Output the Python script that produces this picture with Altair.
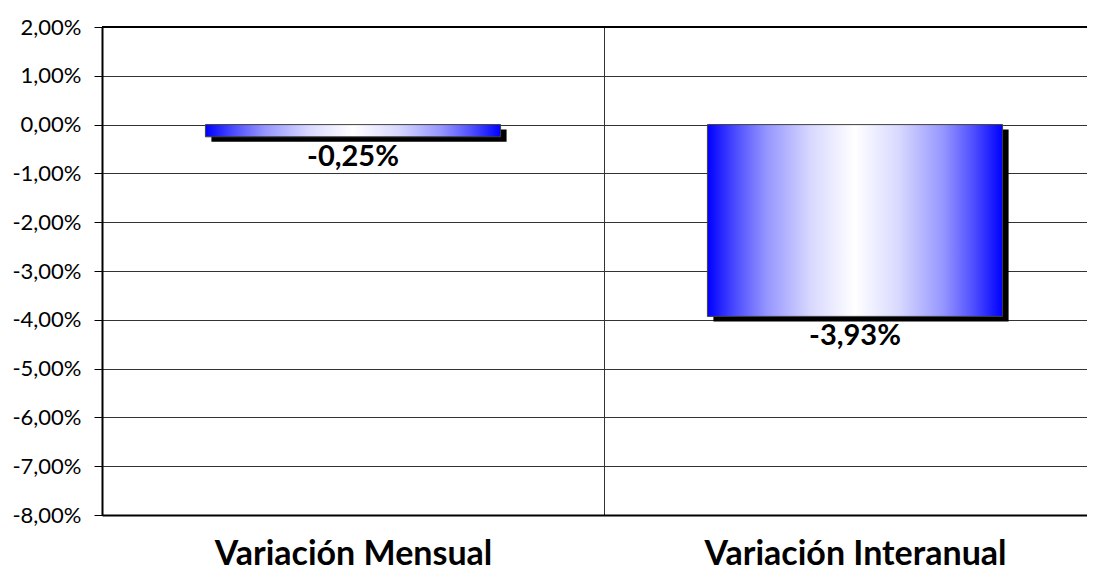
import altair as alt
import pandas as pd

categories = ["Variación Mensual", "Variación Interanual"]
values = [-0.0025, -0.0393]
value_labels = ["-0,25%", "-3,93%"]
y_ticks = [0.02, 0.01, 0.0, -0.01, -0.02, -0.03, -0.04, -0.05, -0.06, -0.07, -0.08]

df = pd.DataFrame({"cat": categories, "val": values, "label": value_labels})

FONT = "Lato"

x_enc = alt.X(
    "cat:N",
    sort=categories,
    scale=alt.Scale(range=[0, 1004], paddingInner=0, paddingOuter=0),
    axis=alt.Axis(
        title=None,
        tickBand="extent",
        grid=True,
        gridColor="#333333",
        gridWidth=1,
        ticks=False,
        tickSize=0,
        labelFont=FONT,
        labelFontWeight="bold",
        labelFontSize=34,
        labelColor="black",
        labelPadding=49,
        labelBaseline="alphabetic",
        labelAngle=0,
        labelLimit=600,
        domainColor="black",
        domainWidth=2,
    ),
)

y_enc = alt.Y(
    "val:Q",
    scale=alt.Scale(domain=[-0.08, 0.02], nice=False),
    axis=alt.Axis(
        title=None,
        values=y_ticks,
        labelExpr="replace(replace(format(datum.value, '.2%'), '.', ','), '\u2212', '-')",
        labelFont=FONT,
        labelFontSize=22,
        labelColor="black",
        labelPadding=13,
        tickSize=8,
        tickColor="black",
        tickWidth=1,
        grid=True,
        gridColor="#333333",
        gridWidth=1,
        domainColor="black",
        domainWidth=2,
    ),
)

base = alt.Chart(df)
BAR_W = alt.RelativeBandSize(0.588)

shadow = base.mark_bar(color="black", xOffset=6, yOffset=5, width=BAR_W).encode(x=x_enc, y=y_enc)

grad = alt.Gradient(
    gradient="linear",
    x1=0, x2=1, y1=0, y2=0,
    stops=[
        alt.GradientStop(color="#0000ff", offset=0),
        alt.GradientStop(color="#5050ff", offset=0.1),
        alt.GradientStop(color="#9595ff", offset=0.2),
        alt.GradientStop(color="#d8d8ff", offset=0.35),
        alt.GradientStop(color="#ffffff", offset=0.5),
        alt.GradientStop(color="#d8d8ff", offset=0.65),
        alt.GradientStop(color="#9595ff", offset=0.8),
        alt.GradientStop(color="#5050ff", offset=0.9),
        alt.GradientStop(color="#0000ff", offset=1),
    ],
)

bars = base.mark_bar(color=grad, stroke="#404040", strokeWidth=1, width=BAR_W).encode(x=x_enc, y=y_enc)

labels = base.mark_text(
    font=FONT, fontSize=29, fontWeight="bold", color="black",
    baseline="alphabetic", align="center", dy=29,
).encode(x=x_enc, y=y_enc, text="label:N")

top_rule = alt.Chart(pd.DataFrame({"top": [0.02]})).mark_rule(
    color="black", strokeWidth=2
).encode(y=alt.Y("top:Q", scale=alt.Scale(domain=[-0.08, 0.02], nice=False)))

chart = alt.layer(shadow, bars, labels, top_rule).properties(
    width=985,
    height=488,
    autosize=alt.AutoSizeParams(type="none"),
    padding={"left": 94, "top": 19, "right": 0, "bottom": 59},
    background="white",
).configure_view(stroke="transparent")

chart.save("out.html", embed_options={"renderer": "svg", "actions": False})
